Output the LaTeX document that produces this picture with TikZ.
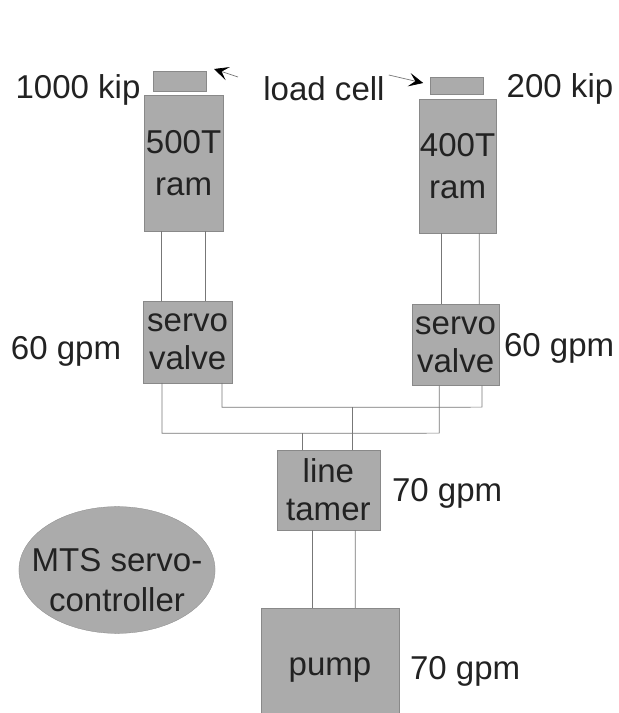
\documentclass[tikz,border=0pt]{standalone}
\usepackage{xcolor}
\usepackage{fontspec}
\setmainfont{Liberation Sans}
\usetikzlibrary{arrows.meta,shapes.geometric,calc}
\definecolor{halftone}{HTML}{ABABAB}
\definecolor{linegray}{HTML}{777777}
\definecolor{inkgray}{HTML}{222222}
\newcommand{\lowered}[2]{\raisebox{#1}[0pt][0pt]{#2}}
\tikzset{
  unit/.style={fill=halftone, draw=halftone!80!black, very thin, align=center, inner sep=0pt, text=inkgray},
  cell/.style={unit, minimum width=13.3mm, minimum height=5mm},
  controller/.style={unit, ellipse, inner xsep=-0.4cm, minimum width=48.5mm, minimum height=31.7mm},
  rating/.style={text=inkgray, inner sep=0pt},
  pipe/.style={draw=linegray, line width=0.5pt},
  arrow/.style={-{Stealth[length=3.6mm,width=3.4mm,inset=1.6mm,color=black,fill=black]}, draw=linegray, line width=0.5pt}
}

\begin{document}
\begin{tikzpicture}[font=\fontsize{23.5}{27}\selectfont]
  \useasboundingbox (0,0) rectangle (15.475,17.825);

  \node[cell] (cellL) at (4.49,15.8) {};
  \node[cell, minimum height=4.3mm] (cellR) at (11.425,15.69) {};
  \node[unit, minimum width=19.8mm, minimum height=34mm] (ramL) at (4.59,13.75) {500T\\[3pt]ram};
  \node[unit, minimum width=19.3mm, minimum height=33.5mm] (ramR) at (11.44,13.675) {400T\\[3pt]ram};
  \node[unit, minimum width=22.3mm, minimum height=20.3mm] (servoL) at (4.69,9.27) {servo\\valve};
  \node[unit, minimum width=21.8mm, minimum height=20.3mm] (servoR) at (11.39,9.2) {servo\\valve};
  \node[unit, minimum width=25.8mm, minimum height=20mm] (tamer) at (8.21,5.575) {line\\tamer};
  \node[unit, minimum width=34.5mm, minimum height=26.3mm] (pump) at (8.25,1.3125) {\lowered{-11pt}{pump}};
  \node[controller] (mts) at (2.925,3.575) {\lowered{-15pt}{MTS servo-}\\[1.5pt]\lowered{-15pt}{controller}};

  \node[rating] (kipL) at (1.95,15.58) {1000 kip};
  \node[rating] (kipR) at (14.0,15.6) {200 kip};
  \node[rating] (load) at (8.1,15.6) {load cell};
  \node[rating] (gpmL) at (1.65,9.05) {60 gpm};
  \node[rating] (gpmR) at (13.98,9.12) {60 gpm};
  \node[rating] (gpmT) at (11.18,5.5) {70 gpm};
  \node[rating] (gpmP) at (11.63,1.05) {70 gpm};

  \coordinate (tailL) at (5.95,15.9);
  \coordinate (tailR) at (9.72,15.95);
  \draw[arrow] (tailL) -- (5.35,16.1) coordinate (tipL);
  \draw[arrow] (tailR) -- (10.58,15.75) coordinate (tipR);

  \foreach \a/\b in {-0.55/-0.65,0.55/0.45} {
    \draw[pipe] ($(ramL.south)+(\a,0)$) -- ($(servoL.north)+(\b,0)$);
  }
  \foreach \a/\b in {-0.41/-0.36,0.54/0.59} {
    \draw[pipe] ($(ramR.south)+(\a,0)$) -- ($(servoR.north)+(\b,0)$);
  }

  \coordinate (lowL) at ($(servoL.south)+(-0.64,-1.26)$);
  \coordinate (highL) at ($(servoL.south)+(0.86,-0.61)$);
  \draw[pipe] ($(servoL.south)+(-0.64,0)$) -- (lowL) -- ($(servoR.south)+(-0.41,-1.185)$) -- ($(servoR.south)+(-0.41,0)$);
  \draw[pipe] ($(servoL.south)+(0.86,0)$) -- (highL) -- ($(servoR.south)+(0.66,-0.535)$) -- ($(servoR.south)+(0.66,0)$);
  \draw[pipe] ($(tamer.north)+(-0.66,0)$) -- ($(tamer.north)+(-0.66,0.425)$);
  \draw[pipe] ($(tamer.north)+(0.61,0)$) -- ($(tamer.north)+(0.61,1.075)$);

  \foreach \a/\b in {-0.41/-0.45,0.67/0.63} {
    \draw[pipe] ($(tamer.south)+(\a,0)$) -- ($(pump.north)+(\b,0)$);
  }
\end{tikzpicture}
\end{document}
